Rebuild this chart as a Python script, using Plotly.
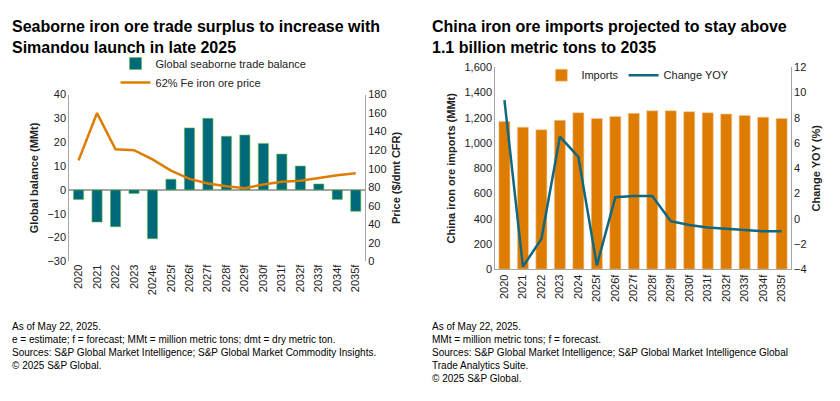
import plotly.graph_objects as go

years_l = ["2020","2021","2022","2023","2024e","2025f","2026f","2027f","2028f","2029f","2030f","2031f","2032f","2033f","2034f","2035f"]
balance = [-4,-13.5,-15.5,-1.5,-20.5,4.5,26,30,22.5,23,19.5,15,10,2.5,-4,-9]
price = [109,160,121,120,110,98,89,84,81,79,83,86,87,90,93,95]
years_r = ["2020","2021","2022","2023","2024","2025f","2026f","2027f","2028f","2029f","2030f","2031f","2032f","2033f","2034f","2035f"]
imports = [1170,1125,1105,1180,1240,1195,1210,1235,1255,1255,1248,1240,1230,1218,1205,1195]
yoy = [9.4,-3.8,-1.6,6.5,4.9,-3.7,1.7,1.8,1.8,-0.2,-0.5,-0.7,-0.8,-0.9,-1.0,-1.0]

TEAL = "#00697a"
ORANGE = "#de7c00"
FONT = "Liberation Sans"
AX = dict(showgrid=False, zeroline=False, showline=True, linecolor="#a6a6a6",
          ticks="", tickfont=dict(size=11, color="#222"))

fig = go.Figure()
fig.add_trace(go.Bar(x=years_l, y=balance, name="Global seaborne trade balance",
                     marker=dict(color=TEAL, line=dict(color="#6cbf4a", width=0.6)),
                     width=0.55, xaxis="x", yaxis="y", legend="legend"))
fig.add_trace(go.Scatter(x=years_l, y=price, name="62% Fe iron ore price", mode="lines",
                         line=dict(color=ORANGE, width=2.5), xaxis="x", yaxis="y2", legend="legend"))
fig.add_trace(go.Bar(x=years_r, y=imports, name="Imports", marker=dict(color=ORANGE, line=dict(color="#f3c9a0", width=0.6)),
                     width=0.6, xaxis="x2", yaxis="y3", legend="legend2"))
fig.add_trace(go.Scatter(x=years_r, y=yoy, name="Change YOY", mode="lines",
                         line=dict(color="#0f6780", width=2.5), xaxis="x2", yaxis="y4", legend="legend2"))

fig.update_layout(
    width=840, height=401, margin=dict(l=0, r=0, t=0, b=0),
    plot_bgcolor="white", paper_bgcolor="white",
    font=dict(family=FONT, size=11, color="#222"),
    barmode="overlay",
    xaxis=dict(AX, domain=[0.073, 0.425], anchor="y", tickangle=-90, showline=False),
    yaxis=dict(AX, domain=[0.364, 0.793], range=[-30, 40], dtick=10, anchor="x",
               title=dict(text="<b>Global balance (MMt)</b>", font=dict(size=11), standoff=6),
               zeroline=True, zerolinecolor="#a6a6a6"),
    yaxis2=dict(AX, overlaying="y", side="right", range=[0, 180], dtick=20, anchor="x",
                title=dict(text="<b>Price ($/dmt CFR)</b>", font=dict(size=11), standoff=6)),
    xaxis2=dict(AX, domain=[0.580, 0.932], anchor="y3", tickangle=-90),
    yaxis3=dict(AX, domain=[0.344, 0.863], range=[0, 1600], dtick=200, tickformat=",", anchor="x2",
                title=dict(text="<b>China iron ore imports (MMt)</b>", font=dict(size=11), standoff=6)),
    yaxis4=dict(AX, overlaying="y3", side="right", range=[-4, 12], dtick=2, anchor="x2",
                title=dict(text="<b>Change YOY (%)</b>", font=dict(size=11), standoff=6)),
    legend=dict(x=0.128, y=0.91, xanchor="left", yanchor="top", orientation="v",
                font=dict(size=11), bgcolor="rgba(0,0,0,0)", tracegroupgap=0),
    legend2=dict(x=0.635, y=0.88, xanchor="left", yanchor="top", orientation="h",
                 font=dict(size=11), bgcolor="rgba(0,0,0,0)"),
    showlegend=True,
)

def ann(x, y, text, size=11, bold=False):
    fig.add_annotation(x=x, y=y, xref="paper", yref="paper", xanchor="left", yanchor="top",
                       text=f"<b>{text}</b>" if bold else text, showarrow=False, align="left",
                       font=dict(size=size, family=FONT, color="#000"))

ann(0.002, 0.995, "Seaborne iron ore trade surplus to increase with<br>Simandou launch in late 2025", 16, True)
ann(0.502, 0.995, "China iron ore imports projected to stay above<br>1.1 billion metric tons to 2035", 16, True)
ann(0.002, 0.215, "As of May 22, 2025.<br>e = estimate; f = forecast; MMt = million metric tons; dmt = dry metric ton.<br>Sources: S&P Global Market Intelligence; S&P Global Market Commodity Insights.<br>© 2025 S&P Global.", 10)
ann(0.502, 0.215, "As of May 22, 2025.<br>MMt = million metric tons; f = forecast.<br>Sources: S&P Global Market Intelligence; S&P Global Market Intelligence Global<br>Trade Analytics Suite.<br>© 2025 S&P Global.", 10)

fig.write_html("out.html")
